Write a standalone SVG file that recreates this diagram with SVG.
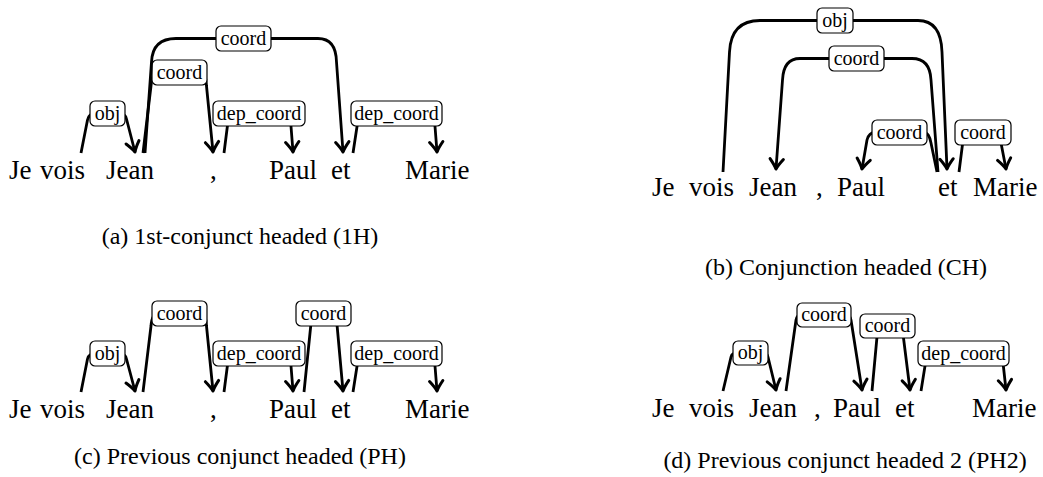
<svg xmlns="http://www.w3.org/2000/svg" width="1043" height="477" viewBox="0 0 1043 477" font-family="'Liberation Serif', Tinos, 'Times New Roman', 'DejaVu Serif', 'Noto Serif', serif">
<style>
text{font-family:'Liberation Serif',Tinos,'Times New Roman','DejaVu Serif','Noto Serif',serif;fill:#000}
.w{font-size:27px}
.cap{font-size:24px;text-anchor:middle}
.lb{font-size:20px;text-anchor:middle}
.e{fill:none;stroke:#000;stroke-width:2.8;stroke-linejoin:round}
.a{marker-end:url(#ah)}
.box{fill:#fff;stroke:#000;stroke-width:1.2}
</style>
<defs>
<marker id="ah" markerUnits="userSpaceOnUse" markerWidth="20" markerHeight="20" viewBox="-12 -9 14 18" refX="0" refY="0" orient="auto" overflow="visible">
<path d="M-9,-6 Q-3.5,-1.6 0,0 Q-3.5,1.6 -9,6" fill="none" stroke="#000" stroke-width="2.7" stroke-linecap="round" stroke-linejoin="round"/>
</marker>
</defs>
<rect width="1043" height="477" fill="#fff"/>

<g id="a-words">
<g id="a-Je"><text class="w" x="9" y="179">Je</text></g>
<g id="a-vois"><text class="w" x="40" y="179">vois</text></g>
<g id="a-Jean"><text class="w" x="106" y="179">Jean</text></g>
<g id="a-comma"><text class="w" x="210" y="179">,</text></g>
<g id="a-Paul"><text class="w" x="269" y="179">Paul</text></g>
<g id="a-et"><text class="w" x="331" y="179">et</text></g>
<g id="a-Marie"><text class="w" x="405" y="179">Marie</text></g>
</g>
<g id="a-caption"><text class="cap" x="240" y="244">(a) 1st-conjunct headed (1H)</text></g>

<g id="b-words">
<g id="b-Je"><text class="w" x="652" y="196">Je</text></g>
<g id="b-vois"><text class="w" x="689" y="196">vois</text></g>
<g id="b-Jean"><text class="w" x="749" y="196">Jean</text></g>
<g id="b-comma"><text class="w" x="816" y="196">,</text></g>
<g id="b-Paul"><text class="w" x="837" y="196">Paul</text></g>
<g id="b-et"><text class="w" x="938" y="196">et</text></g>
<g id="b-Marie"><text class="w" x="973" y="196">Marie</text></g>
</g>
<g id="b-caption"><text class="cap" x="846" y="275">(b) Conjunction headed (CH)</text></g>

<g id="c-words">
<g id="c-Je"><text class="w" x="9" y="418">Je</text></g>
<g id="c-vois"><text class="w" x="40" y="418">vois</text></g>
<g id="c-Jean"><text class="w" x="106" y="418">Jean</text></g>
<g id="c-comma"><text class="w" x="210" y="418">,</text></g>
<g id="c-Paul"><text class="w" x="269" y="418">Paul</text></g>
<g id="c-et"><text class="w" x="331" y="418">et</text></g>
<g id="c-Marie"><text class="w" x="405" y="418">Marie</text></g>
</g>
<g id="c-caption"><text class="cap" x="240" y="464">(c) Previous conjunct headed (PH)</text></g>

<g id="d-words">
<g id="d-Je"><text class="w" x="652" y="417">Je</text></g>
<g id="d-vois"><text class="w" x="689" y="417">vois</text></g>
<g id="d-Jean"><text class="w" x="749" y="417">Jean</text></g>
<g id="d-comma"><text class="w" x="814" y="417">,</text></g>
<g id="d-Paul"><text class="w" x="833" y="417">Paul</text></g>
<g id="d-et"><text class="w" x="895" y="417">et</text></g>
<g id="d-Marie"><text class="w" x="972" y="417">Marie</text></g>
</g>
<g id="d-caption"><text class="cap" x="845" y="468">(d) Previous conjunct headed 2 (PH2)</text></g>

<g id="connectors">
<g id="a-obj"><path class="e a" d="M81,153 L87.5,120 Q89,113.5 95,113.5 L120,113.5 Q125,113.5 126.5,119 L135,152"/><rect class="box" x="90" y="101" width="35" height="25" rx="5"/><text class="lb" x="107.5" y="119.5">obj</text></g>
<g id="a-coord1"><path class="e a" d="M143,153 L151,86 Q152,72.5 158,72.5 L200,72.5 Q206,72.5 206.5,86 L213,152"/><rect class="box" x="152" y="60" width="55" height="25" rx="5"/><text class="lb" x="179.5" y="79">coord</text></g>
<g id="a-coord2"><path class="e a" d="M145,153 L151.5,62 Q152.5,38.5 176,38.5 L318,38.5 Q336,38.5 336.5,62 L343,152"/><rect class="box" x="216" y="26" width="55" height="25" rx="5"/><text class="lb" x="243.5" y="45">coord</text></g>
<g id="a-dep1"><path class="e a" d="M224,153 L229,113.5 L290,113.5 L293,152"/><rect class="box" x="213" y="101" width="92" height="25" rx="5"/><text class="lb" x="259" y="119.5">dep_coord</text></g>
<g id="a-dep2"><path class="e a" d="M353,153 L359,113.5 L434,113.5 L437,152"/><rect class="box" x="351" y="101" width="91" height="25" rx="5"/><text class="lb" x="396.5" y="119.5">dep_coord</text></g>

<g id="b-obj"><path class="e a" d="M723,172 L729.5,52 Q731,20.5 760,20.5 L918,20.5 Q941,20.5 942,52 L947,169"/><rect class="box" x="817" y="8" width="36" height="25" rx="5"/><text class="lb" x="835" y="26.5">obj</text></g>
<g id="b-coord1"><path class="e a" d="M938,172 L931,80 Q930,58.5 912,58.5 L800,58.5 Q783.5,58.5 782.5,80 L776,169"/><rect class="box" x="829" y="46" width="55" height="25" rx="5"/><text class="lb" x="856.5" y="64.5">coord</text></g>
<g id="b-coord2"><path class="e a" d="M937,172 L931,143 Q929,132.5 924,132.5 L875,132.5 Q869,132.5 867,140 L862,169"/><rect class="box" x="872" y="120" width="55" height="25" rx="5"/><text class="lb" x="899.5" y="138.5">coord</text></g>
<g id="b-coord3"><path class="e a" d="M959,172 L964,132.5 L999,132.5 L1006,169"/><rect class="box" x="955" y="120" width="56" height="25" rx="5"/><text class="lb" x="983" y="138.5">coord</text></g>

<g id="c-obj"><path class="e a" d="M81,392 L87.5,359 Q89,353.5 95,353.5 L120,353.5 Q125,353.5 126.5,359 L135,391"/><rect class="box" x="90" y="341" width="35" height="25" rx="5"/><text class="lb" x="107.5" y="359.5">obj</text></g>
<g id="c-coord1"><path class="e a" d="M143,392 L151,326 Q152,313.5 158,313.5 L200,313.5 Q206,313.5 206.5,326 L213,391"/><rect class="box" x="152" y="301" width="55" height="25" rx="5"/><text class="lb" x="179.5" y="319.5">coord</text></g>
<g id="c-dep1"><path class="e a" d="M224,392 L229,353.5 L290,353.5 L293,391"/><rect class="box" x="213" y="341" width="92" height="25" rx="5"/><text class="lb" x="259" y="359.5">dep_coord</text></g>
<g id="c-coord2"><path class="e a" d="M304,392 L312,313.5 L336,313.5 L343,391"/><rect class="box" x="296" y="301" width="55" height="25" rx="5"/><text class="lb" x="323.5" y="319.5">coord</text></g>
<g id="c-dep2"><path class="e a" d="M353,392 L359,353.5 L434,353.5 L437,391"/><rect class="box" x="351" y="341" width="91" height="25" rx="5"/><text class="lb" x="396.5" y="359.5">dep_coord</text></g>

<g id="d-obj"><path class="e a" d="M723,391 L731,357 Q732,353 737,353 L763,353 Q767,353 768,357 L776,390"/><rect class="box" x="733" y="341" width="35" height="24" rx="5"/><text class="lb" x="750.5" y="359">obj</text></g>
<g id="d-coord1"><path class="e a" d="M786,391 L796,320 Q797,315 801,315 L846,315 Q850,315 851,320 L862,390"/><rect class="box" x="797" y="303" width="54" height="24" rx="5"/><text class="lb" x="824" y="321">coord</text></g>
<g id="d-coord2"><path class="e a" d="M872,391 L878,326 L902,326 L910,390"/><rect class="box" x="860" y="314" width="55" height="24" rx="5"/><text class="lb" x="887.5" y="332">coord</text></g>
<g id="d-dep"><path class="e a" d="M921,391 L927,353.5 L1002,353.5 L1006,390"/><rect class="box" x="918" y="341" width="91" height="25" rx="5"/><text class="lb" x="963.5" y="359.5">dep_coord</text></g>
</g>
</svg>
